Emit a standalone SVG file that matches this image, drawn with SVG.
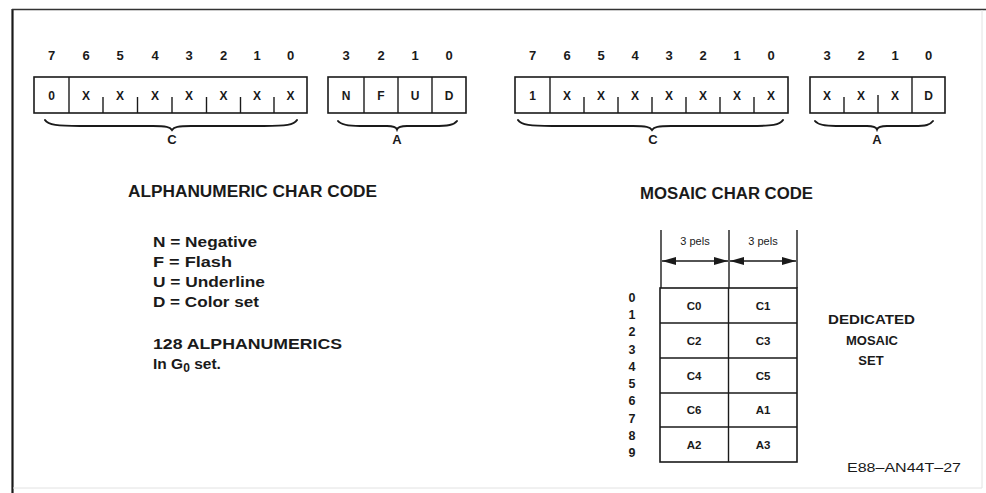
<svg xmlns="http://www.w3.org/2000/svg" width="986" height="493" viewBox="0 0 986 493">
<defs>
<style>
.ln{stroke:#1a1a1a;stroke-width:1.6;fill:none}
.tk{stroke:#1a1a1a;stroke-width:1.4}
.br{stroke:#1a1a1a;stroke-width:2;fill:none;stroke-linecap:round}
.bit{font-family:"Liberation Sans",Arial,sans-serif;font-weight:bold;font-size:13px;fill:#1a1a1a;text-anchor:middle}
.cell{font-family:"Liberation Sans",Arial,sans-serif;font-weight:bold;font-size:12px;fill:#1a1a1a;text-anchor:middle}
.lab{font-family:"Liberation Sans",Arial,sans-serif;font-weight:bold;font-size:13px;fill:#1a1a1a;text-anchor:middle}
.ttl{font-family:"Liberation Sans",Arial,sans-serif;font-weight:bold;font-size:16px;fill:#1a1a1a}
.leg{font-family:"Liberation Sans",Arial,sans-serif;font-weight:bold;font-size:14.5px;fill:#1a1a1a}
.sm{font-family:"Liberation Sans",Arial,sans-serif;font-size:11px;fill:#1a1a1a;text-anchor:middle}
.mc{font-family:"Liberation Sans",Arial,sans-serif;font-weight:bold;font-size:11.5px;fill:#1a1a1a;text-anchor:middle}
.rn{font-family:"Liberation Sans",Arial,sans-serif;font-weight:bold;font-size:12.5px;fill:#1a1a1a;text-anchor:middle}
.ds{font-family:"Liberation Sans",Arial,sans-serif;font-weight:bold;font-size:13px;fill:#1a1a1a;text-anchor:middle}
.ref{font-family:"Liberation Sans",Arial,sans-serif;font-size:13.5px;fill:#1a1a1a}
</style>
<marker id="ah" viewBox="0 0 14 8" refX="14" refY="4" markerWidth="14" markerHeight="8" markerUnits="userSpaceOnUse" orient="auto-start-reverse">
<path d="M0,0 L14,4 L0,8 Z" fill="#1a1a1a"/>
</marker>
</defs>
<rect width="986" height="493" fill="#ffffff"/>
<g id="frame">
<line x1="12.5" y1="9" x2="12.5" y2="493" stroke="#1a1a1a" stroke-width="2.2"/>
<line x1="12" y1="9.5" x2="986" y2="9.5" stroke="#333" stroke-width="1.5"/>
<line x1="982" y1="10" x2="982" y2="488" stroke="#e2e2e2" stroke-width="1"/>
<line x1="13" y1="488" x2="982" y2="488" stroke="#e2e2e2" stroke-width="1"/>
</g>

<g id="alpha-c">
<text class="bit" x="51.5" y="60">7</text><text class="bit" x="86" y="60">6</text><text class="bit" x="120" y="60">5</text><text class="bit" x="155" y="60">4</text><text class="bit" x="189" y="60">3</text><text class="bit" x="223.5" y="60">2</text><text class="bit" x="257" y="60">1</text><text class="bit" x="290.5" y="60">0</text>
<rect class="ln" x="34" y="77" width="273" height="36"/>
<line class="tk" x1="69" y1="77" x2="69" y2="113"/>
<line class="tk" x1="103" y1="97" x2="103" y2="113"/><line class="tk" x1="137.5" y1="97" x2="137.5" y2="113"/><line class="tk" x1="172" y1="97" x2="172" y2="113"/><line class="tk" x1="206.5" y1="97" x2="206.5" y2="113"/><line class="tk" x1="240.5" y1="97" x2="240.5" y2="113"/><line class="tk" x1="274" y1="97" x2="274" y2="113"/>
<text class="cell" x="51.5" y="100">0</text><text class="cell" x="86" y="100">X</text><text class="cell" x="120" y="100">X</text><text class="cell" x="155" y="100">X</text><text class="cell" x="189" y="100">X</text><text class="cell" x="223.5" y="100">X</text><text class="cell" x="257" y="100">X</text><text class="cell" x="290.5" y="100">X</text>
</g>

<g id="alpha-a">
<text class="bit" x="346" y="60">3</text><text class="bit" x="381" y="60">2</text><text class="bit" x="415" y="60">1</text><text class="bit" x="449" y="60">0</text>
<rect class="ln" x="328" y="77" width="138" height="36"/>
<line class="tk" x1="364" y1="77" x2="364" y2="113"/><line class="tk" x1="398" y1="77" x2="398" y2="113"/><line class="tk" x1="432" y1="77" x2="432" y2="113"/>
<text class="cell" x="346" y="100">N</text><text class="cell" x="381" y="100">F</text><text class="cell" x="415" y="100">U</text><text class="cell" x="449" y="100">D</text>
</g>

<g id="mosaic-c">
<text class="bit" x="532.5" y="60">7</text><text class="bit" x="567" y="60">6</text><text class="bit" x="601" y="60">5</text><text class="bit" x="635" y="60">4</text><text class="bit" x="669" y="60">3</text><text class="bit" x="703" y="60">2</text><text class="bit" x="737" y="60">1</text><text class="bit" x="771" y="60">0</text>
<rect class="ln" x="515" y="77" width="273" height="36"/>
<line class="tk" x1="550" y1="77" x2="550" y2="113"/>
<line class="tk" x1="584" y1="97" x2="584" y2="113"/><line class="tk" x1="618" y1="97" x2="618" y2="113"/><line class="tk" x1="652" y1="97" x2="652" y2="113"/><line class="tk" x1="686" y1="97" x2="686" y2="113"/><line class="tk" x1="720" y1="97" x2="720" y2="113"/><line class="tk" x1="754" y1="97" x2="754" y2="113"/>
<text class="cell" x="532.5" y="100">1</text><text class="cell" x="567" y="100">X</text><text class="cell" x="601" y="100">X</text><text class="cell" x="635" y="100">X</text><text class="cell" x="669" y="100">X</text><text class="cell" x="703" y="100">X</text><text class="cell" x="737" y="100">X</text><text class="cell" x="771" y="100">X</text>
</g>

<g id="mosaic-a">
<text class="bit" x="827" y="60">3</text><text class="bit" x="861" y="60">2</text><text class="bit" x="895" y="60">1</text><text class="bit" x="928.5" y="60">0</text>
<rect class="ln" x="810" y="77" width="135" height="36"/>
<line class="tk" x1="844" y1="97" x2="844" y2="113"/><line class="tk" x1="878" y1="95" x2="878" y2="113"/>
<line class="tk" x1="912" y1="77" x2="912" y2="113"/>
<text class="cell" x="827" y="100">X</text><text class="cell" x="861" y="100">X</text><text class="cell" x="895" y="100">X</text><text class="cell" x="928.5" y="100">D</text>
</g>

<g id="braces">
<path class="br" d="M45,120 C48,125 58,126 80,126 L153,126 C166,126 170,127 172,130 C174,127 178,126 191,126 L264,126 C286,126 294,125 297,120"/>
<path class="br" d="M338,121 C341,125 348,126 360,126 L387,126 C394,126 396,127 397,129.5 C398,127 400,126 407,126 L434,126 C448,126 454,125 457,121"/>
<path class="br" d="M518,120 C521,125 531,126 552,126 L633,126 C646,126 650,127 652,130 C654,127 658,126 671,126 L750,126 C772,126 780,125 783,120"/>
<path class="br" d="M815,121 C818,125 825,126 836,126 L867,126 C874,126 876,127 877,129.5 C878,127 880,126 887,126 L914,126 C926,126 930,125 933,121"/>
<text class="lab" x="172" y="144">C</text>
<text class="lab" x="397" y="144">A</text>
<text class="lab" x="653" y="144">C</text>
<text class="lab" x="877" y="144">A</text>
</g>

<g id="alpha-text">
<text class="ttl" x="128" y="197" textLength="249" lengthAdjust="spacingAndGlyphs">ALPHANUMERIC CHAR CODE</text>
<text class="leg" x="153" y="247" textLength="104" lengthAdjust="spacingAndGlyphs">N = Negative</text>
<text class="leg" x="153" y="267" textLength="79" lengthAdjust="spacingAndGlyphs">F = Flash</text>
<text class="leg" x="153" y="287" textLength="112" lengthAdjust="spacingAndGlyphs">U = Underline</text>
<text class="leg" x="153" y="307" textLength="106" lengthAdjust="spacingAndGlyphs">D = Color set</text>
<text class="leg" x="153" y="349" textLength="189" lengthAdjust="spacingAndGlyphs">128 ALPHANUMERICS</text>
<text class="leg" x="153" y="369" style="font-size:15.5px">In G<tspan style="font-size:12px" dy="3">0</tspan><tspan dy="-3"> set.</tspan></text>
</g>

<g id="mosaic-text">
<text class="ttl" x="640" y="199" textLength="173" lengthAdjust="spacingAndGlyphs">MOSAIC CHAR CODE</text>
</g>

<g id="mosaic-grid">
<line class="tk" x1="661" y1="230" x2="661" y2="288"/>
<line class="tk" x1="729" y1="230" x2="729" y2="288"/>
<line class="tk" x1="797" y1="230" x2="797" y2="288"/>
<text class="sm" x="695" y="245">3 pels</text>
<text class="sm" x="763" y="245">3 pels</text>
<rect class="ln" x="660" y="288" width="137" height="174"/>
<line class="tk" x1="728.5" y1="288" x2="728.5" y2="462"/>
<line class="tk" x1="660" y1="323" x2="797" y2="323"/>
<line class="tk" x1="660" y1="358" x2="797" y2="358"/>
<line class="tk" x1="660" y1="393" x2="797" y2="393"/>
<line class="tk" x1="660" y1="427" x2="797" y2="427"/>
<text class="mc" x="694" y="310">C0</text><text class="mc" x="763" y="310">C1</text>
<text class="mc" x="694" y="345">C2</text><text class="mc" x="763" y="345">C3</text>
<text class="mc" x="694" y="380">C4</text><text class="mc" x="763" y="380">C5</text>
<text class="mc" x="694" y="414">C6</text><text class="mc" x="763" y="414">A1</text>
<text class="mc" x="694" y="449">A2</text><text class="mc" x="763" y="449">A3</text>
<text class="rn" x="632" y="301.5">0</text><text class="rn" x="632" y="319">1</text><text class="rn" x="632" y="336">2</text><text class="rn" x="632" y="353.5">3</text><text class="rn" x="632" y="370.5">4</text><text class="rn" x="632" y="388">5</text><text class="rn" x="632" y="405">6</text><text class="rn" x="632" y="422.5">7</text><text class="rn" x="632" y="439.5">8</text><text class="rn" x="632" y="457">9</text>
</g>

<g id="dedicated">
<text class="ds" x="871.5" y="324" textLength="87" lengthAdjust="spacingAndGlyphs">DEDICATED</text>
<text class="ds" x="872" y="345">MOSAIC</text>
<text class="ds" x="871" y="365">SET</text>
</g>

<text class="ref" x="847" y="472" textLength="114" lengthAdjust="spacingAndGlyphs">E88–AN44T–27</text>

<g id="connectors">
<line class="tk" x1="662" y1="261" x2="728" y2="261" marker-start="url(#ah)" marker-end="url(#ah)"/>
<line class="tk" x1="730" y1="261" x2="796" y2="261" marker-start="url(#ah)" marker-end="url(#ah)"/>
</g>
</svg>
